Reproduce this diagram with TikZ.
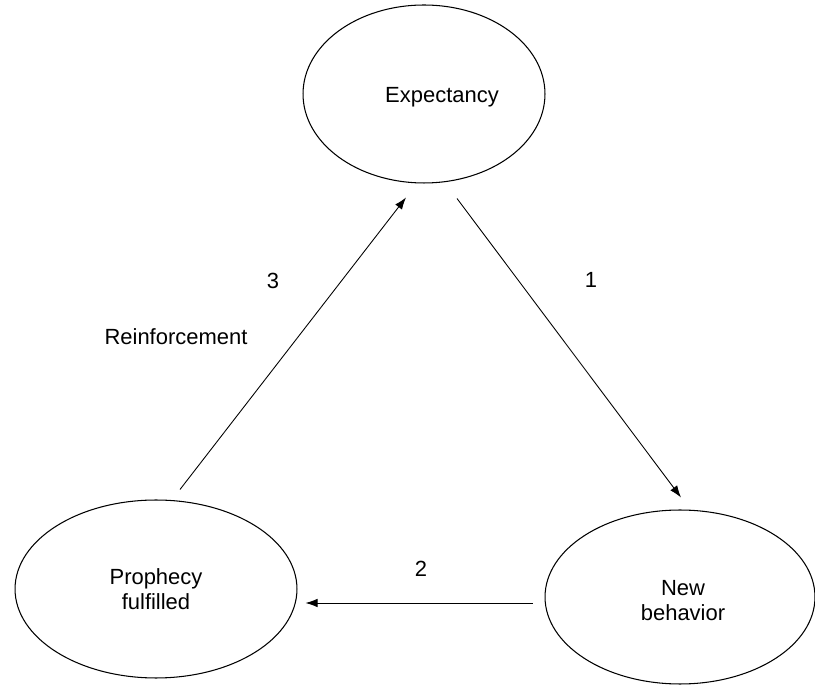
\documentclass[tikz,border=0pt]{standalone}
\usepackage{fontspec}
\setmainfont{Liberation Sans}
\usetikzlibrary{shapes.geometric,arrows.meta,calc}

\begin{document}
\begin{tikzpicture}[x=0.02cm,y=-0.02cm,
		every node/.style={font=\fontsize{12.5}{14}\selectfont,align=center},
		bubble/.style={draw,ellipse,line width=0.6pt,inner sep=0pt},
		arr/.style={-{Latex[length=0.24cm,width=0.17cm]},line width=0.5pt}]
		\useasboundingbox (0,0) rectangle (815,685);

		\node[bubble,minimum width=4.84cm,minimum height=3.56cm,
			label={[xshift=0.36cm,yshift=-0.07cm]center:Expectancy}] (exp) at (424,94) {};
		\node[bubble,minimum width=5.64cm,minimum height=3.56cm] (prop) at (156,589) {Prophecy\\fulfilled};
		\node[bubble,minimum width=5.40cm,minimum height=3.48cm,
			label={[xshift=0.06cm,yshift=-0.07cm]center:New\\behavior}] (newb) at (680,597) {};

		\draw[arr] ($(exp.south)+(33,15)$)   -- ($(newb.north)+(1,-12)$);
		\draw[arr] ($(newb.west)+(-12,6)$)   -- ($(prop.east)+(8,14)$);
		\draw[arr] ($(prop.north)+(24,-10)$) -- ($(exp.south)+(-18,14)$);

		\node (l1) at (591,280) {1};
		\node (l2) at (421,569) {2};
		\node (l3) at (273,281) {3};
		\node (reinf) at (176,337) {Reinforcement};
	\end{tikzpicture}
\end{document}
